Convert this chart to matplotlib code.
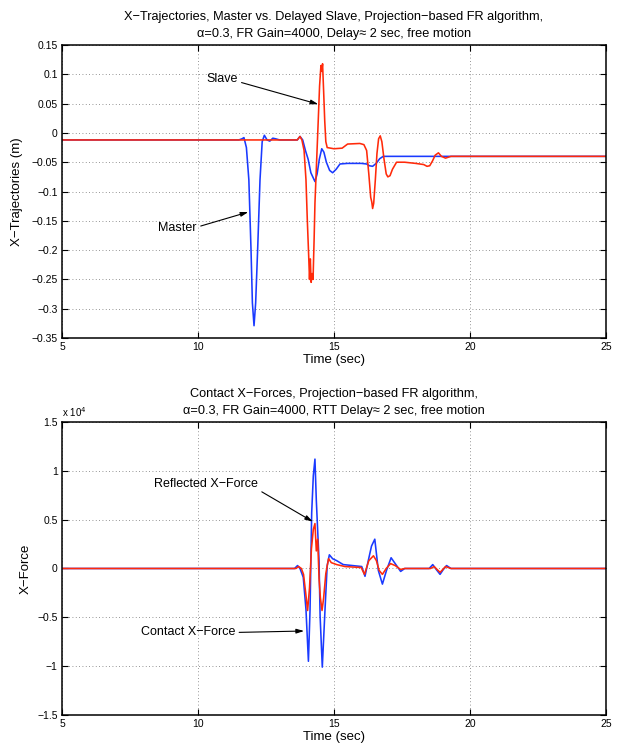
import matplotlib
matplotlib.use("Agg")
import matplotlib.pyplot as plt
from matplotlib.ticker import FuncFormatter

plt.rcParams['font.family'] = ['Liberation Sans', 'DejaVu Sans']
plt.rcParams['axes.unicode_minus'] = True

#master / slave x-trajectories (m)
master_t = [5, 11.5, 11.62, 11.69, 11.78, 11.87, 11.95, 12.0, 12.06, 12.12, 12.2, 12.28, 12.36, 12.44, 12.54,
            12.64, 12.75, 12.85, 13.0, 13.65, 13.75, 13.85, 13.95, 14.05, 14.15, 14.3, 14.38, 14.46, 14.55, 14.63,
            14.72, 14.84, 14.95, 15.08, 15.22, 15.5, 16.0, 16.2, 16.3, 16.42, 16.55, 16.68, 16.81, 17.2, 25]
master_x = [-0.012, -0.012, -0.010, -0.008, -0.025, -0.08, -0.20, -0.29, -0.329, -0.29, -0.19, -0.08, -0.015, -0.004, -0.012,
            -0.014, -0.009, -0.010, -0.012, -0.012, -0.006, -0.012, -0.03, -0.045, -0.068, -0.083, -0.07, -0.045, -0.027, -0.033,
            -0.05, -0.064, -0.068, -0.062, -0.053, -0.052, -0.052, -0.053, -0.056, -0.057, -0.052, -0.044, -0.040, -0.040, -0.040]

slave_t = [5, 13.65, 13.75, 13.82, 13.9, 13.97, 14.02, 14.07, 14.1, 14.13, 14.16, 14.2, 14.23, 14.27, 14.3,
           14.36, 14.42, 14.47, 14.52, 14.55, 14.58, 14.62, 14.66, 14.7, 14.75, 15.0, 15.3, 15.5, 15.95, 16.1,
           16.2, 16.28, 16.35, 16.39, 16.42, 16.46, 16.52, 16.58, 16.64, 16.7, 16.76, 16.84, 16.92, 16.98, 17.06,
           17.15, 17.3, 17.6, 18.0, 18.3, 18.42, 18.52, 18.62, 18.72, 18.84, 18.95, 19.1, 19.3, 25]
slave_x = [-0.012, -0.012, -0.006, -0.012, -0.03, -0.08, -0.15, -0.21, -0.25, -0.215, -0.255, -0.24, -0.25, -0.18, -0.12,
           -0.05, 0.02, 0.08, 0.115, 0.105, 0.118, 0.07, 0.02, -0.015, -0.025, -0.027, -0.026, -0.019, -0.018, -0.02,
           -0.03, -0.07, -0.11, -0.118, -0.129, -0.12, -0.08, -0.035, -0.01, -0.005, -0.015, -0.045, -0.07, -0.075, -0.073,
           -0.062, -0.05, -0.05, -0.052, -0.054, -0.057, -0.056, -0.048, -0.038, -0.034, -0.04, -0.043, -0.04, -0.04]

#contact / reflected x-forces (N)
contact_t = [5, 13.55, 13.66, 13.75, 13.87, 13.97, 14.06, 14.12, 14.18, 14.24, 14.3, 14.35, 14.4, 14.45, 14.49,
             14.57, 14.67, 14.75, 14.83, 14.95, 15.1, 15.34, 16.02, 16.14, 16.26, 16.38, 16.5, 16.63, 16.78, 16.93,
             17.1, 17.3, 17.45, 17.6, 18.5, 18.63, 18.76, 18.9, 19.02, 19.14, 19.3, 25]
contact_f = [0, 0, 300, 0, -900, -4200, -9500, -4200, 5700, 9500, 11200, 7000, 3900, 800, -4900,
             -10100, -4200, 300, 1400, 1000, 800, 400, 200, -800, 800, 2300, 3000, -200, -1600, -200,
             1100, 300, -300, 0, 0, 400, -100, -600, -100, 300, 0, 0]

reflected_t = [5, 13.6, 13.7, 13.8, 13.88, 13.96, 14.03, 14.1, 14.17, 14.24, 14.3, 14.35, 14.4, 14.45, 14.5,
               14.56, 14.62, 14.7, 14.8, 14.9, 15.1, 15.4, 16.0, 16.12, 16.28, 16.45, 16.56, 16.66, 16.78, 16.92,
               17.08, 17.25, 17.45, 17.6, 18.55, 18.68, 18.9, 19.1, 19.3, 25]
reflected_f = [0, 0, 200, 0, -600, -2500, -4300, -2000, 2000, 4000, 4600, 1800, 3000, -1000, -3000,
               -4300, -3000, -500, 1000, 600, 400, 200, 100, -600, 800, 1300, 800, -200, -600, 0,
               500, 300, -100, 0, 0, 200, -400, 200, 0, 0]

time_ticks = [5, 10, 15, 20, 25]
traj_ticks = [0.15, 0.1, 0.05, 0, -0.05, -0.1, -0.15, -0.2, -0.25, -0.3, -0.35]
force_ticks = [1.5, 1, 0.5, 0, -0.5, -1, -1.5]

blue = '#1a3aff'
red = '#ff2a0a'
fmt = FuncFormatter(lambda v, p: ('%g' % v).replace('-', '\u2212'))


def style_axes(ax):
    ax.set_xlim(5, 25)
    ax.set_xticks(time_ticks)
    ax.yaxis.set_major_formatter(fmt)
    ax.tick_params(direction='in', top=True, right=True, length=4, width=0.8, labelsize=7.5, pad=3)
    ax.grid(True, color='0.45', linestyle=(0, (1, 3)), linewidth=0.6)
    for s in ax.spines.values():
        s.set_linewidth(1.1)
    ax.set_xlabel('Time (sec)', fontsize=9.5, labelpad=1)


fig = plt.figure(figsize=(6.23, 7.49), dpi=100)

#top: trajectories
ax1 = fig.add_axes([0.0995, 0.5487, 0.8732, 0.3912])
ax1.plot(master_t, master_x, color=blue, lw=1.15)
ax1.plot(slave_t, slave_x, color=red, lw=1.15)
ax1.set_ylim(-0.35, 0.15)
ax1.set_yticks(traj_ticks)
style_axes(ax1)
ax1.set_ylabel('X\u2212Trajectories (m)', fontsize=9.5, labelpad=6)
ax1.set_title('X\u2212Trajectories, Master vs. Delayed Slave, Projection\u2212based FR algorithm,\n'
              '\u03b1=0.3, FR Gain=4000, Delay\u2248 2 sec, free motion', fontsize=9.2, pad=6, linespacing=1.5)
arrow = dict(arrowstyle='-|>,head_length=0.5,head_width=0.15', color='k', lw=0.8, shrinkA=1, shrinkB=0)
ax1.annotate('Slave', xy=(14.42, 0.049), xytext=(11.45, 0.092), ha='right', va='center', fontsize=9,
             arrowprops=dict(arrow, relpos=(1.0, 0.3)))
ax1.annotate('Master', xy=(11.85, -0.135), xytext=(9.95, -0.163), ha='right', va='center', fontsize=9,
             arrowprops=dict(arrow, relpos=(1.0, 0.6)))

#bottom: forces, shown in units of 1e4
ax2 = fig.add_axes([0.0995, 0.0454, 0.8732, 0.3912])
ax2.plot(contact_t, [f / 1e4 for f in contact_f], color=blue, lw=1.15)
ax2.plot(reflected_t, [f / 1e4 for f in reflected_f], color=red, lw=1.15)
ax2.set_ylim(-1.5, 1.5)
ax2.set_yticks(force_ticks)
style_axes(ax2)
ax2.set_ylabel('X\u2212Force', fontsize=9.5, labelpad=4)
ax2.set_title('Contact X\u2212Forces, Projection\u2212based FR algorithm,\n'
              '\u03b1=0.3, FR Gain=4000, RTT Delay\u2248 2 sec, free motion', fontsize=9.2, pad=6, linespacing=1.5)
ax2.text(0.0, 1.01, r'x 10$^{4}$', transform=ax2.transAxes, fontsize=7, ha='left', va='bottom')
ax2.annotate('Reflected X\u2212Force', xy=(14.22, 0.48), xytext=(12.2, 0.87), ha='right', va='center', fontsize=9,
             arrowprops=dict(arrow, relpos=(1.0, 0.0)))
ax2.annotate('Contact X\u2212Force', xy=(13.9, -0.64), xytext=(11.36, -0.655), ha='right', va='center', fontsize=9,
             arrowprops=dict(arrow, relpos=(1.0, 0.5)))

fig.savefig('out.png', dpi=100)
